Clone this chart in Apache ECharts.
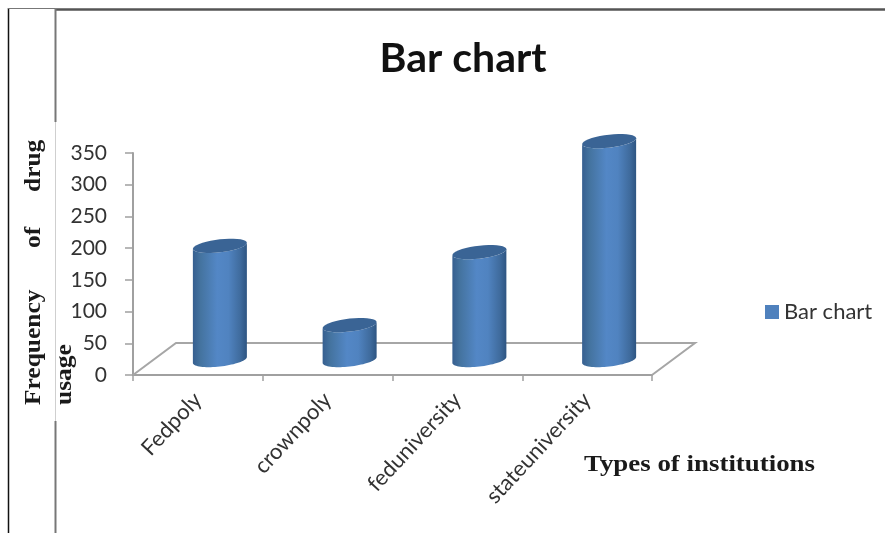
<!DOCTYPE html>
<html>
<head>
<meta charset="utf-8">
<style>html,body{margin:0;padding:0;background:#fff}#chart{width:885px;height:533px}</style>
<script src="https://cdn.jsdelivr.net/npm/echarts@6/dist/echarts.min.js"></script>
</head>
<body>
<div id="chart"></div>
<script>
const categories = ['Fedpoly', 'crownpoly', 'feduniversity', 'stateuniversity'];
const frequency = [180, 55, 170, 345];
const seriesName = 'Bar chart';
const yMax = 350;
const yStep = 50;

// Depth of the pseudo-3D floor, and how far the cylinders sit inside it
const FLOOR_DX = 43, FLOOR_DY = 32;
const BAR_DX = 22, BAR_DY = 15;
const BAR_RX = 27, BAR_RY = 6.5, BAR_TILT = 3;

// Sampled outline of a slightly tilted ellipse between two angles
function arc(cx, cy, from, to) {
  const pts = [];
  for (let i = 0; i <= 36; i++) {
    const t = from + (to - from) * i / 36;
    const c = Math.cos(t), s = Math.sin(t);
    pts.push([cx + BAR_RX * c, cy + BAR_RY * s - BAR_TILT * c]);
  }
  return pts;
}

function renderCylinder(params, api) {
  const base = api.coord([api.value(0), 0]);
  const top = api.coord([api.value(0), api.value(1)]);
  const cx = base[0] + BAR_DX;
  const yBase = base[1] - BAR_DY;
  const yTop = top[1] - BAR_DY;
  const body = arc(cx, yBase, Math.PI, 0).concat(arc(cx, yTop, 0, Math.PI));
  return {
    type: 'group',
    children: [
      {
        type: 'polygon',
        shape: { points: body },
        style: {
          fill: new echarts.graphic.LinearGradient(0, 0, 1, 0, [
            { offset: 0, color: '#365f90' },
            { offset: 0.14, color: '#44739f' },
            { offset: 0.45, color: '#5387c6' },
            { offset: 0.66, color: '#5083c0' },
            { offset: 0.88, color: '#3f6b9d' },
            { offset: 1, color: '#2e5582' }
          ])
        }
      },
      {
        type: 'polygon',
        shape: { points: arc(cx, yTop, 0, Math.PI * 2) },
        style: { fill: '#3a6495' }
      }
    ]
  };
}

function renderFloor(params) {
  const r = params.coordSys;
  const y0 = r.y + r.height, x0 = r.x, x1 = r.x + r.width;
  return {
    type: 'polyline',
    shape: {
      points: [
        [x0, y0],
        [x0 + FLOOR_DX, y0 - FLOOR_DY],
        [x1 + FLOOR_DX, y0 - FLOOR_DY],
        [x1, y0]
      ]
    },
    style: { stroke: '#a6a6a6', lineWidth: 2, fill: null }
  };
}

const AXIS_COLOR = '#a0a0a0';
const chart = echarts.init(document.getElementById('chart'), null, { renderer: 'canvas' });

// Frame rules and the axis titles, whose serif words are spaced out individually
const wordStyle = { fontFamily: 'Liberation Serif', fontWeight: 'bold', fontSize: 24, fill: '#1a1a1a' };
const rule = (x1, y1, x2, y2, stroke, lineWidth) => ({
  type: 'line', shape: { x1, y1, x2, y2 }, style: { stroke, lineWidth }, silent: true
});
const word = (text, x, y) => ({
  type: 'text', x, y, rotation: Math.PI / 2, scaleX: 1.06,
  style: Object.assign({ text, align: 'left', verticalAlign: 'middle' }, wordStyle),
  silent: true
});

chart.setOption({
  animation: false,
  backgroundColor: '#ffffff',
  title: {
    text: seriesName,
    left: 458, top: 33, textAlign: 'center',
    textStyle: { fontFamily: 'Lato', fontWeight: 'bold', fontSize: 41, color: '#111111' }
  },
  legend: {
    data: [seriesName],
    left: 760, top: 296,
    icon: 'rect', itemWidth: 14, itemHeight: 14, itemGap: 6,
    textStyle: { fontFamily: 'Lato', fontSize: 22, color: '#333333' }
  },
  grid: { left: 133, top: 153, width: 519, height: 222 },
  xAxis: {
    type: 'category',
    data: categories,
    boundaryGap: true,
    axisLine: { lineStyle: { color: AXIS_COLOR, width: 2 } },
    axisTick: { show: true, length: 6, lineStyle: { color: AXIS_COLOR, width: 1.5 } },
    axisLabel: {
      interval: 0, rotate: 47, margin: 21,
      fontFamily: 'Lato', fontSize: 22, color: '#333333'
    }
  },
  yAxis: {
    type: 'value',
    min: 0, max: yMax, interval: yStep,
    splitLine: { show: false },
    axisLine: { show: true, lineStyle: { color: AXIS_COLOR, width: 2 } },
    axisTick: { show: true, length: 8, lineStyle: { color: AXIS_COLOR, width: 1.5 } },
    axisLabel: { margin: 26, fontFamily: 'Lato', fontSize: 21, color: '#333333' }
  },
  series: [
    {
      type: 'custom', name: 'floor', z: 1, silent: true,
      renderItem: renderFloor,
      data: [[0]], encode: { x: 0 }
    },
    {
      type: 'custom', name: seriesName, z: 3,
      itemStyle: { color: '#4f81bd' },
      renderItem: renderCylinder,
      data: frequency.map((v, i) => [i, v]),
      encode: { x: 0, y: 1 }
    }
  ],
  graphic: [
    rule(8.5, 8, 8.5, 533, '#111111', 1.5),
    rule(8, 8.5, 55, 8.5, '#777777', 1),
    rule(55, 9.5, 885, 9.5, '#555555', 2.5),
    rule(55.5, 9, 55.5, 122, '#777777', 2),
    rule(55.5, 122, 55.5, 421, '#cfcfcf', 1),
    rule(55.5, 421, 55.5, 533, '#777777', 2),
    word('Frequency', 34, 405),
    word('of', 34, 248),
    word('drug', 34, 192),
    word('usage', 65, 405),
    {
      type: 'text', x: 584, y: 465, scaleX: 1.12, silent: true,
      style: Object.assign({ text: 'Types of institutions', align: 'left', verticalAlign: 'middle' }, wordStyle)
    }
  ]
});
</script>
</body>
</html>
